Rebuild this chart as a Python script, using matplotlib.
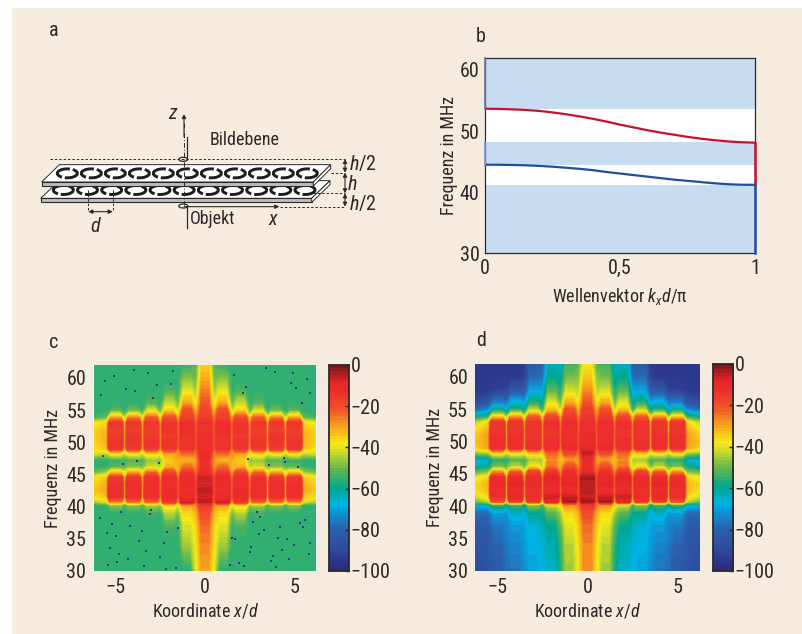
import numpy as np
import matplotlib
matplotlib.use("Agg")
import matplotlib.pyplot as plt
from matplotlib import font_manager as fm
from matplotlib.colors import LinearSegmentedColormap
from matplotlib.patches import Ellipse, Polygon, Arc

W, H = 803, 634
BG = '#f5ecdf'
INK = '#2b2a29'

# ---- panel b: dispersion ----
k_vals = [0, 0.05, 0.1, 0.15, 0.2, 0.25, 0.3, 0.35, 0.4, 0.45, 0.5, 0.55, 0.6, 0.65, 0.7, 0.75, 0.8, 0.85, 0.9, 0.95, 1]
upper_band = [53.65, 53.62, 53.55, 53.45, 53.3, 53.05, 52.75, 52.4, 52.0, 51.55, 51.05, 50.6, 50.15, 49.75, 49.4, 49.05, 48.75, 48.5, 48.3, 48.17, 48.1]
lower_band = [44.5, 44.48, 44.45, 44.4, 44.3, 44.17, 44.0, 43.82, 43.6, 43.3, 43.05, 42.8, 42.55, 42.3, 42.05, 41.85, 41.65, 41.45, 41.3, 41.22, 41.2]
gaps = [(30, 41.2), (44.4, 48.2), (53.6, 62)]

# ---- panels c, d: level in dB; columns are x/d = 0, 0.5 ... 5.5, 6.2 (mirrored on plotting) ----
x_cols = [0, 0.5, 1, 1.5, 2, 2.5, 3, 3.5, 4, 4.5, 5, 5.5, 6.2]
f_rows = [30, 34, 37, 39, 40.2, 40.7, 41.5, 42.5, 43.5, 44.5, 45.3, 46.2, 47.2, 48.2, 49, 50, 51, 52, 53, 53.8, 55, 56, 58, 60, 62]
# half width of each lobe top, row by row
lobe_half = [0.2, 0.2, 0.2, 0.22, 0.28, 0.33, 0.38, 0.38, 0.38, 0.36, 0.28, 0.2, 0.2, 0.26, 0.36, 0.38, 0.38, 0.38, 0.36, 0.3, 0.22, 0.2, 0.2, 0.2, 0.2]

level_c = [
    [-30, -40, -56, -56, -56, -56, -56, -56, -56, -56, -56, -56, -56],
    [-27, -38, -46, -56, -56, -56, -56, -56, -56, -56, -56, -56, -56],
    [-24, -36, -41, -55, -53, -56, -56, -56, -56, -56, -56, -56, -56],
    [-20, -32, -36, -50, -44, -56, -54, -56, -55, -56, -56, -56, -56],
    [-16, -28, -30, -42, -36, -48, -46, -52, -48, -54, -48, -55, -56],
    [-5, -24, -7, -34, -16, -38, -24, -40, -26, -40, -28, -42, -46],
    [-8, -26, -11, -28, -11, -32, -13, -34, -13, -34, -13, -34, -37],
    [-5, -24, -13, -26, -12, -28, -12, -34, -14, -34, -13, -30, -34],
    [-8, -24, -12, -26, -13, -30, -14, -32, -13, -33, -14, -31, -36],
    [-7, -24, -12, -28, -13, -30, -14, -34, -15, -35, -15, -34, -37],
    [-12, -26, -15, -32, -18, -36, -24, -38, -30, -40, -34, -46, -50],
    [-13, -28, -24, -33, -32, -44, -42, -50, -48, -52, -52, -55, -56],
    [-13, -30, -33, -31, -35, -48, -47, -53, -52, -55, -54, -56, -56],
    [-12, -26, -24, -28, -30, -38, -36, -42, -38, -43, -38, -44, -42],
    [-13, -24, -14, -28, -15, -32, -16, -34, -16, -35, -15, -33, -38],
    [-14, -24, -15, -27, -14, -30, -14, -32, -15, -33, -14, -32, -35],
    [-13, -24, -14, -27, -16, -31, -16, -33, -15, -34, -16, -31, -35],
    [-15, -25, -14, -27, -15, -30, -17, -33, -17, -34, -16, -33, -36],
    [-14, -26, -14, -28, -15, -32, -15, -35, -15, -36, -15, -36, -39],
    [-16, -28, -17, -32, -19, -37, -22, -40, -26, -44, -30, -50, -54],
    [-18, -34, -20, -44, -36, -52, -42, -55, -50, -56, -52, -56, -56],
    [-21, -40, -30, -50, -42, -55, -52, -56, -55, -56, -56, -56, -56],
    [-26, -46, -40, -56, -53, -56, -56, -56, -56, -56, -56, -56, -56],
    [-31, -50, -48, -56, -56, -56, -56, -56, -56, -56, -56, -56, -56],
    [-35, -52, -55, -56, -56, -56, -56, -56, -56, -56, -56, -56, -56],
]

level_d = [
    [-28, -38, -46, -58, -65, -68, -70, -73, -77, -78, -83, -86, -88],
    [-27, -37, -44, -56, -63, -66, -68, -71, -74, -76, -80, -84, -86],
    [-24, -35, -40, -52, -60, -63, -66, -70, -71, -74, -76, -82, -84],
    [-20, -32, -36, -46, -52, -60, -60, -68, -65, -72, -70, -78, -78],
    [-15, -26, -28, -38, -42, -54, -48, -60, -54, -62, -56, -66, -68],
    [-3, -24, -4, -34, -9, -40, -16, -42, -18, -43, -20, -44, -50],
    [-7, -24, -7, -28, -7, -32, -12, -34, -10, -35, -12, -36, -42],
    [-5, -23, -12, -26, -12, -28, -13, -32, -13, -33, -13, -32, -37],
    [-6, -23, -9, -25, -10, -28, -11, -31, -8, -33, -11, -32, -36],
    [-4, -23, -10, -25, -8, -29, -12, -33, -12, -35, -13, -36, -40],
    [-10, -25, -13, -29, -15, -34, -18, -38, -22, -41, -28, -48, -52],
    [-12, -28, -20, -32, -25, -42, -38, -50, -44, -52, -50, -60, -64],
    [-11, -30, -30, -34, -27, -46, -46, -54, -52, -58, -56, -66, -68],
    [-6, -26, -19, -30, -24, -36, -34, -40, -38, -42, -37, -46, -48],
    [-9, -23, -12, -27, -13, -30, -13, -32, -14, -33, -13, -30, -36],
    [-12, -23, -13, -26, -13, -29, -14, -31, -13, -32, -14, -29, -33],
    [-11, -23, -13, -26, -15, -30, -15, -32, -14, -33, -14, -29, -35],
    [-13, -24, -13, -26, -14, -29, -15, -32, -15, -33, -15, -32, -38],
    [-13, -25, -13, -28, -14, -31, -14, -34, -15, -35, -15, -36, -44],
    [-15, -28, -16, -32, -18, -37, -22, -41, -28, -46, -34, -54, -60],
    [-17, -33, -20, -44, -34, -56, -44, -62, -56, -68, -60, -74, -78],
    [-21, -38, -30, -50, -40, -62, -56, -70, -66, -76, -74, -84, -88],
    [-28, -44, -42, -58, -52, -70, -70, -84, -84, -92, -92, -94, -95],
    [-34, -48, -50, -62, -60, -78, -78, -92, -94, -95, -95, -95, -95],
    [-38, -52, -54, -66, -64, -82, -82, -94, -95, -95, -95, -95, -95],
]

# stray dark pixels in the measured map (x/d, MHz)
spec_x = [-5.6, -5.1, -4.4, -3.2, -1.9, 1.6, 2.3, 3.9, 4.8, 5.9, -5.7, -4.6, 3.6, 4.4, 5.2, -5.9, -4.2, -3.1, -2.1, 2.7,
          3.3, 4.1, 5.6, -5.3, -3.7, -2.5, 1.9, 2.6, 4.3, 5.0, -4.9, -3.4, 3.0, 4.7, 5.8, -2.9, 5.4, -5.5, -1.6, 1.4,
          -4.0, -2.7, 3.4, 4.9, 5.7, -5.8, -3.9, -1.8, 2.1, 5.1, -4.7, -3.0, 2.9, 4.2, 5.5, -5.2, -3.5, -2.3, 1.7, 3.8,
          -4.3, 2.5, 4.6, 5.3, -5.0, -3.3, -1.5, 1.5, 3.1, 4.0, -5.4, -2.2, 2.2, 3.7, 5.9, -4.8, -3.8, 2.4, 4.5, -2.6]
spec_y = [59.5, 60.3, 58.2, 60.8, 59.1, 60.4, 58.6, 60.9, 59.2, 57.6, 47.8, 46.6, 46.4, 47.5, 46.1, 38.2, 37.0, 38.8, 36.1, 37.6,
          36.4, 35.2, 38.0, 33.5, 34.6, 32.1, 31.2, 33.8, 33.3, 34.0, 31.4, 30.8, 35.7, 31.9, 32.7, 56.8, 56.1, 35.9, 30.4, 31.0,
          61.2, 58.9, 61.5, 60.7, 59.8, 57.3, 57.9, 61.0, 57.7, 58.4, 39.2, 39.5, 39.1, 36.8, 36.9, 37.3, 36.2, 34.3, 34.9, 32.4,
          31.8, 32.9, 35.0, 37.4, 35.4, 33.1, 36.7, 35.1, 38.4, 30.6, 30.9, 30.3, 30.7, 31.6, 34.4, 32.6, 47.1, 47.4, 46.9, 46.7]

cbar_ticks = [0, -20, -40, -60, -80, -100]
cbar_labels = ['0', '\u221220', '\u221240', '\u221260', '\u221280', '\u2212100']
freq_ticks = [30, 35, 40, 45, 50, 55, 60]

installed = {f.name for f in fm.fontManager.ttflist}
base = next(n for n in ['Liberation Sans Narrow', 'Roboto Condensed', 'Open Sans Condensed', 'Lato', 'DejaVu Sans'] if n in installed)
narrow = base != 'Lato' and base != 'DejaVu Sans'
TICK = 14.5 if narrow else 12.5
LABEL = 13 if narrow else 11.8

plt.rcParams['font.family'] = [base, 'DejaVu Sans']
plt.rcParams['mathtext.fontset'] = 'custom'
plt.rcParams['mathtext.it'] = base + ':italic'
plt.rcParams['mathtext.rm'] = base
plt.rcParams['text.color'] = INK
plt.rcParams['axes.labelcolor'] = INK
plt.rcParams['xtick.color'] = INK
plt.rcParams['ytick.color'] = INK

cmap = LinearSegmentedColormap.from_list('level', [
    (0.00, '#2a2a7c'), (0.10, '#2f4a9e'), (0.20, '#2a62ae'), (0.28, '#0f93d4'), (0.32, '#00b4e6'),
    (0.40, '#00a78e'), (0.50, '#6bb84c'), (0.58, '#cfdc2a'), (0.62, '#f7ea16'), (0.70, '#f8a81c'),
    (0.78, '#f15a29'), (0.87, '#ee2f2c'), (0.92, '#e8262a'), (1.00, '#7e1518')], N=64)


def px_axes(x0, y0, x1, y1):
    # rectangle given in picture pixels, y downward
    return fig.add_axes([x0 / W, 1 - y1 / H, (x1 - x0) / W, (y1 - y0) / H])


def expand(level):
    # integer columns become a lobe top of row-dependent width, then mirror about x=0
    xs, cols = [], []
    half = np.array(lobe_half)
    rows = np.array(f_rows, dtype=float)
    for xv, col in zip(x_cols, np.array(level, dtype=float).T):
        if xv == 0:
            xs += [np.zeros_like(half), half]; cols += [col, col]
        elif float(xv).is_integer():
            xs += [xv - half, xv + half]; cols += [col, col]
        else:
            xs.append(np.full_like(half, xv)); cols.append(col)
    xs = np.array(xs).T
    cols = np.array(cols).T
    xx = np.c_[-xs[:, :0:-1], xs]
    zz = np.c_[cols[:, :0:-1], cols]
    yy = np.repeat(rows[:, None], xx.shape[1], axis=1)
    return xx, yy, zz


def map_panel(rect, cbar_rect, level):
    ax = px_axes(*rect)
    xx, yy, zz = expand(level)
    ax.contourf(xx, yy, zz, levels=np.linspace(-100, 0, 65), cmap=cmap, vmin=-100, vmax=0, antialiased=False)
    ax.set_xlim(-6.25, 6.25)
    ax.set_ylim(30, 62)
    ax.set_xticks([-5, 0, 5], ['\u22125', '0', '5'])
    ax.set_yticks(freq_ticks)
    ax.tick_params(length=0, pad=5, labelsize=TICK)
    ax.set_xlabel('Koordinate $x/d$', fontsize=LABEL, labelpad=3)
    ax.set_ylabel('Frequenz in MHz', fontsize=LABEL, labelpad=3)
    for s in ax.spines.values():
        s.set_visible(False)
    cax = px_axes(*cbar_rect)
    cax.imshow(np.linspace(0, -100, 64)[:, None], cmap=cmap, vmin=-100, vmax=0, aspect='auto', extent=[0, 1, -100, 0], interpolation='nearest')
    cax.set_xticks([])
    cax.yaxis.tick_right()
    cax.set_yticks(cbar_ticks, cbar_labels)
    cax.tick_params(axis='y', length=3, width=1, pad=1, labelsize=TICK, direction='in', color=INK)
    for s in cax.spines.values():
        s.set_linewidth(1.3)
        s.set_color(INK)
    return ax


fig = plt.figure(figsize=(W / 100, H / 100), dpi=100, facecolor='white')
fig.patches.append(plt.Rectangle((12 / W, 0), (W - 12) / W, 1 - 8 / H, transform=fig.transFigure, facecolor=BG, edgecolor='none', zorder=-10))

# ---- panel a: schematic, drawn in picture pixels ----
sk = fig.add_axes([0, 0, 1, 1], facecolor='none')
sk.set_xlim(0, W)
sk.set_ylim(H, 0)
sk.axis('off')


def crop(x, y):
    return 20 + x / 3, 90 + y / 3


def poly(pts, **kw):
    sk.add_patch(Polygon([crop(*p) for p in pts], closed=True, **kw))


def line(xs, ys, **kw):
    p = [crop(a, b) for a, b in zip(xs, ys)]
    sk.plot([a for a, b in p], [b for a, b in p], color=kw.pop('color', INK), lw=kw.pop('lw', 0.8), **kw)


def rings(y, x_left, x_right, zorder):
    for cx in np.linspace(x_left, x_right, 11):
        c = crop(cx, y)
        sk.add_patch(Arc(c, 20, 9, theta1=-35, theta2=120, lw=2.1, color='#1d1d1b', zorder=zorder))
        sk.add_patch(Arc(c, 20, 9, theta1=145, theta2=300, lw=2.1, color='#1d1d1b', zorder=zorder))


# lower plate first, the upper one covers its back edge
poly([(62, 325), (875, 325), (930, 272), (118, 272)], facecolor='white', edgecolor=INK, lw=0.7, zorder=2)
poly([(62, 325), (875, 325), (875, 337), (62, 337)], facecolor='#bdbdbd', edgecolor=INK, lw=0.8, zorder=2)
poly([(875, 325), (930, 272), (930, 284), (875, 337)], facecolor='white', edgecolor=INK, lw=0.7, zorder=2)
rings(300, 130, 855, 3)
poly([(65, 276), (880, 276), (932, 224), (118, 224)], facecolor='white', edgecolor=INK, lw=0.7, zorder=4)
poly([(65, 276), (880, 276), (880, 288), (65, 288)], facecolor='#bdbdbd', edgecolor=INK, lw=0.8, zorder=4)
poly([(880, 276), (932, 224), (932, 236), (880, 288)], facecolor='white', edgecolor=INK, lw=0.7, zorder=4)
rings(250, 142, 862, 5)

dash = dict(ls=(0, (2.5, 2)), lw=0.7, zorder=6)
line([90, 975], [207, 207], **dash)
line([932, 975], [248, 248], **dash)
line([880, 975], [310, 310], **dash)
line([780, 975], [350, 350], **dash)
line([205, 205], [300, 365], **dash)
line([278, 278], [300, 365], **dash)
line([492, 492], [100, 345], ls=(0, (5, 2, 1, 2)), lw=0.7, zorder=6)
line([500, 500], [142, 205], lw=0.9, zorder=6)
line([500, 500], [350, 415], lw=0.9, zorder=6)
for cy in [208, 348]:
    c = crop(490, cy)
    sk.add_patch(Ellipse(c, 9, 4, fill=False, edgecolor=INK, lw=0.9, zorder=7))


def arrow(a, b, both=False):
    sk.annotate('', xy=crop(*b), xytext=crop(*a), zorder=7,
                arrowprops=dict(arrowstyle='<|-|>' if both else '-|>', color=INK, lw=0.8, shrinkA=0, shrinkB=0, mutation_scale=6))


arrow((492, 140), (492, 72))
arrow((492, 350), (778, 350))
arrow((205, 365), (278, 365), both=True)
arrow((975, 207), (975, 248), both=True)
arrow((975, 248), (975, 310), both=True)
arrow((975, 310), (975, 350), both=True)

for tx, ty, s in [(460, 70, '$z$'), (762, 388, '$x$'), (228, 410, '$d$')]:
    sk.text(*crop(tx, ty), s, fontsize=TICK, ha='center', va='center')
for tx, ty, s in [(986, 222, '$h/2$'), (982, 283, '$h$'), (986, 342, '$h/2$')]:
    sk.text(*crop(tx, ty), s, fontsize=TICK, ha='left', va='center')
sk.text(*crop(675, 150), 'Bildebene', fontsize=LABEL, ha='center', va='center')
sk.text(*crop(577, 388), 'Objekt', fontsize=LABEL, ha='center', va='center')

for s, x, y in [('a', 54, 31), ('b', 481, 36), ('c', 54, 342), ('d', 481, 340)]:
    sk.text(x, y, s, fontsize=TICK, ha='center', va='center')

# ---- panel b ----
ax_b = px_axes(485, 57.7, 755, 253.3)
for lo, hi in gaps:
    ax_b.axhspan(lo, hi, color='#c7dcf0', lw=0)
ax_b.plot(k_vals, upper_band, color='#c8102e', lw=1.6, solid_capstyle='butt')
ax_b.plot(k_vals, lower_band, color='#1f4ea1', lw=1.6, solid_capstyle='butt')
ax_b.plot([1, 1], [upper_band[-1], lower_band[-1]], color='#c8102e', lw=1.8, clip_on=False, zorder=3)
ax_b.plot([1, 1], [30, lower_band[-1]], color='#1f4ea1', lw=1.8, clip_on=False, zorder=3)
ax_b.plot([0, 0], [gaps[1][0], gaps[1][1]], color='#6fa0d8', lw=1.2, clip_on=False, zorder=3)
ax_b.plot([0, 0], [upper_band[0], 62], color='#7a70b0', lw=1.2, clip_on=False, zorder=3)
ax_b.set_xlim(0, 1)
ax_b.set_ylim(30, 62)
ax_b.set_xticks([0, 0.5, 1], ['0', '0,5', '1'])
ax_b.set_yticks([30, 40, 50, 60])
ax_b.tick_params(length=0, pad=4, labelsize=TICK)
ax_b.set_xlabel('Wellenvektor $k_x d/$\u03c0', fontsize=LABEL, labelpad=6)
ax_b.set_ylabel('Frequenz in MHz', fontsize=LABEL, labelpad=1)
for s in ax_b.spines.values():
    s.set_linewidth(0.9)
    s.set_color(INK)

# ---- panels c and d ----
ax_c = map_panel((93.3, 365, 316.7, 571), (329.3, 365, 349.3, 571), level_c)
ax_c.scatter(spec_x, spec_y, s=2, marker='s', color='#2f3a94', lw=0)
ax_d = map_panel((475, 364, 700, 571), (712.7, 364, 733.3, 571), level_d)

fig.savefig('out.png', dpi=100)
